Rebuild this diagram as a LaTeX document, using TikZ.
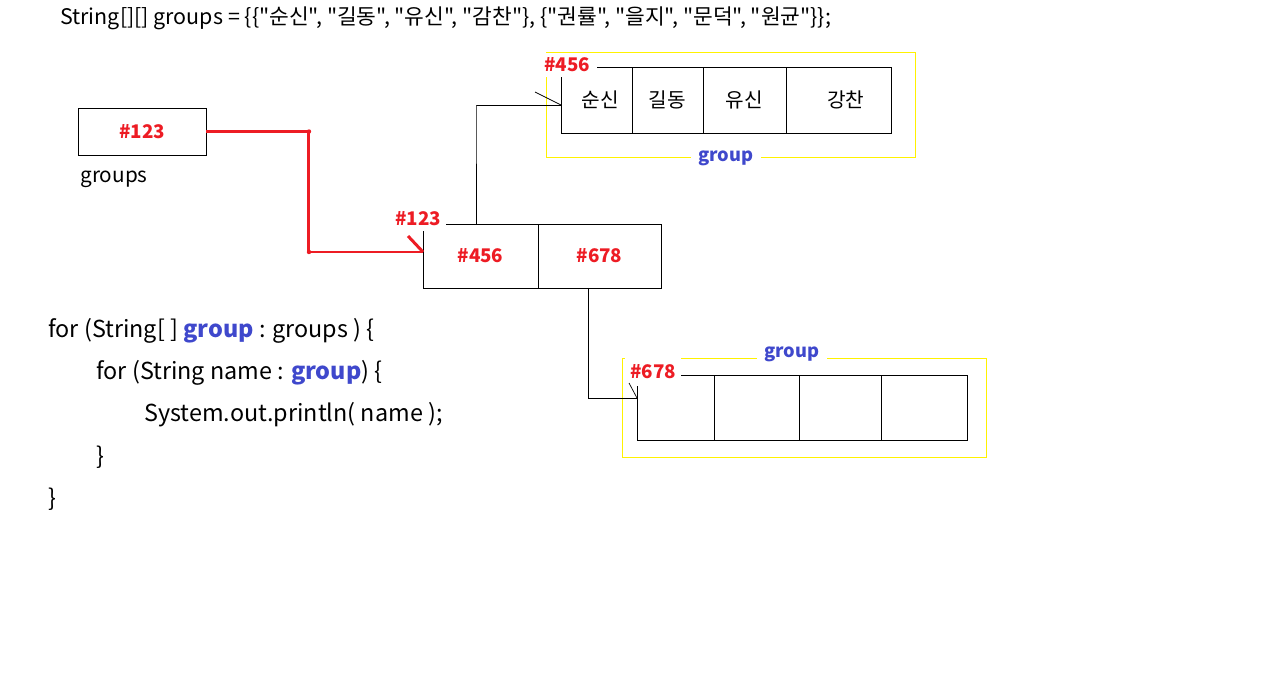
\documentclass[tikz,border=0pt]{standalone}
\usepackage{fontspec}
\setmainfont{Noto Sans CJK KR}[Ligatures=TeXOff]
\usetikzlibrary{positioning}
\definecolor{memred}{HTML}{ED1C24}
\definecolor{varblue}{HTML}{3F48CC}
\definecolor{boxyellow}{HTML}{FFF200}
\newcommand\fsz[1]{\fontsize{#1}{#1}\selectfont}
\tikzset{
    cell/.style={draw,rectangle,inner sep=0pt,outer sep=0pt,font=\fsz{11.5}},
    addr/.style={text=memred,font=\bfseries\fsz{10.7},fill=white,inner sep=2pt},
    varname/.style={text=varblue,font=\bfseries\fsz{10.4},fill=white,inner xsep=4pt,inner ysep=1pt},
    redline/.style={draw=memred,line width=1.7pt},
    reddot/.style={fill=memred,draw=none},
    code/.style={anchor=west,font=\fsz{13.3},inner sep=0pt},
}
\begin{document}
\begin{tikzpicture}[x=0.02cm,y=-0.02cm]
        \useasboundingbox (0,0) rectangle (1267,690);
        %% Declaration
        \node[anchor=west,font=\fsz{12.2},inner sep=0pt] (decl) at (60,18) {String[][] groups = \{\{"순신", "길동", "유신", "감찬"\}, \{"권률", "을지", "문덕", "원균"\}\};};
        %% Reference variable
        \node[cell,minimum width=2.56cm,minimum height=0.94cm,text=memred,font=\bfseries\fsz{10.7}] (groups) at (142,131.5) {\#123};
        \node[anchor=west,font=\fsz{11.8},inner sep=0pt] (groupslbl) at (80,179) {groups};
        %% Outer array
        \node[cell,minimum width=2.30cm,minimum height=1.28cm,text=memred,font=\bfseries\fsz{10.7}] (outA) at (480.5,256) {\#456};
        \node[cell,minimum width=2.46cm,minimum height=1.28cm,text=memred,font=\bfseries\fsz{10.7},right=0pt of outA] (outB) {\#678};
        %% First inner array
        \draw[boxyellow] (546,52) rectangle (915,157);
        \node[cell,minimum width=1.42cm,minimum height=1.32cm] (firA) at (596.5,100) {\hspace*{0.15cm}\raisebox{1.5pt}{순신}};
        \node[cell,minimum width=1.42cm,minimum height=1.32cm,right=0pt of firA] (firB) {\raisebox{-1.5pt}{길동}};
        \node[cell,minimum width=1.66cm,minimum height=1.32cm,right=0pt of firB] (firC) {\raisebox{-2pt}{유신}};
        \node[cell,minimum width=2.10cm,minimum height=1.32cm,right=0pt of firC] (firD) {\hspace*{0.3cm}\raisebox{-2.5pt}{강찬}};
        \node[varname] (firlbl) at (726,158) {group};
        %% Second inner array
        \draw[boxyellow] (622,358) rectangle (986,457);
        \node[cell,minimum width=1.54cm,minimum height=1.30cm] (secA) at (675.5,407.5) {};
        \node[cell,minimum width=1.70cm,minimum height=1.30cm,right=0pt of secA] (secB) {};
        \node[cell,minimum width=1.64cm,minimum height=1.30cm,right=0pt of secB] (secC) {};
        \node[cell,minimum width=1.72cm,minimum height=1.30cm,right=0pt of secC] (secD) {};
        \node[varname] (seclbl) at (792,354) {group};
        %% Address labels
        \node[addr,inner xsep=4pt,inner ysep=3pt] (adr456) at (567,65) {\#456};
        \node[addr,inner xsep=3pt,inner ysep=3pt] (adr123) at (418,219) {\#123};
        \node[addr,inner xsep=3pt,inner ysep=4pt] (adr678) at (653,372) {\#678};
        %% Pointers
        \draw[redline] (groups.east) -- ++(103,0) coordinate (bendA) |- ([yshift=0.08cm]outA.west) coordinate (tipA);
        \draw[redline] (tipA) -- ++(-15,-16);
        \fill[reddot] (bendA) circle (2.2);
        \fill[reddot] (bendA |- tipA) circle (2.2);
        \draw ([xshift=-0.09cm]outA.north) -- ++(0,-119) coordinate (bendB) |- ([yshift=-0.10cm]firA.west) coordinate (tipB);
        \draw (tipB) -- ++(-26,-13);
        \draw ([xshift=-0.23cm]outB.south) -- ++(0,110) coordinate (bendC) |- ([yshift=0.19cm]secA.west) coordinate (tipC);
        \draw (tipC) -- ++(-8,-15);
        %% Loop code
        \node[code] (loopA) at (48,331) {for (String[ ] {\color{varblue}\bfseries group} : groups ) \{};
        \node[code] (loopB) at (96,373) {for (String name : {\color{varblue}\bfseries group}) \{};
        \node[code] (loopC) at (144,415) {System.out.println( name );};
        \node[code] (loopD) at (96,457) {\}};
        \node[code] (loopE) at (48,499) {\}};
    \end{tikzpicture}
\end{document}
